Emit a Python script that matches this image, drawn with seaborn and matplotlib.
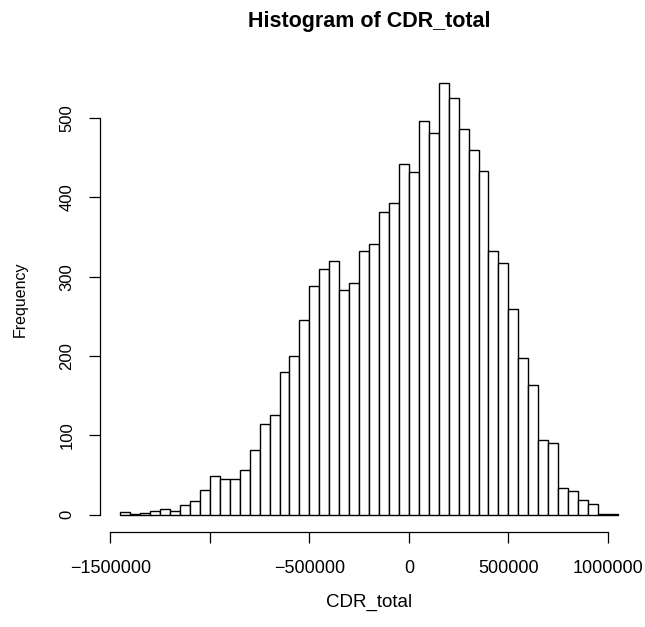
import numpy as np
import pandas as pd
import matplotlib
matplotlib.use("Agg")
import matplotlib.pyplot as plt
import seaborn as sns

# ---- data ----
bin_start = -1450000
bin_width = 50000
counts = [3, 1, 2, 5, 7, 5, 12, 17, 31, 49,
          45, 45, 56, 82, 115, 126, 180, 200, 245, 289,
          310, 320, 283, 292, 333, 341, 382, 393, 442, 432,
          497, 481, 544, 526, 486, 460, 433, 333, 317, 259,
          197, 164, 94, 90, 34, 30, 19, 13, 1, 1]
x_ticks = [-1500000, -1000000, -500000, 0, 500000, 1000000]
x_tick_labels = ["\u22121500000", "", "\u2212500000", "0", "500000", "1000000"]
y_ticks = [0, 100, 200, 300, 400, 500]
y_tick_labels = ["0", "100", "200", "300", "400", "500"]
title = "Histogram of CDR_total"
x_label = "CDR_total"
y_label = "Frequency"

edges = bin_start + bin_width * np.arange(len(counts) + 1)
df = pd.DataFrame({"mid": edges[:-1] + bin_width / 2, "count": counts})

sns.set_theme(style="white")
plt.rcParams["font.family"] = ["Liberation Sans", "DejaVu Sans"]

W, H = 645, 627
fig = plt.figure(figsize=(W / 100, H / 100), dpi=100)
left, right, top, bottom = 100.4, 637.7, 66.0, 532.0
ax = fig.add_axes([left / W, (H - bottom) / H, (right - left) / W, (bottom - top) / H])

sns.histplot(data=df, x="mid", weights="count", binwidth=bin_width,
             binrange=(float(edges[0]), float(edges[-1])), stat="count",
             color="white", edgecolor="black", linewidth=1.0, alpha=1.0, ax=ax)

ymax = max(counts)
ax.set_xlim(edges[0] - 0.04 * (edges[-1] - edges[0]), edges[-1] + 0.04 * (edges[-1] - edges[0]))
ax.set_ylim(-0.04 * ymax, 1.04 * ymax)

for s in ["top", "right"]:
    ax.spines[s].set_visible(False)
for s in ["left", "bottom"]:
    ax.spines[s].set_visible(True)
    ax.spines[s].set_color("black")
    ax.spines[s].set_linewidth(0.9)
ax.spines["bottom"].set_bounds(x_ticks[0], x_ticks[-1])
ax.spines["left"].set_bounds(y_ticks[0], y_ticks[-1])

ax.set_xticks(x_ticks)
ax.set_xticklabels(x_tick_labels)
ax.set_yticks(y_ticks)
ax.set_yticklabels(y_tick_labels, rotation=90, va="center")
ax.tick_params(axis="x", direction="out", length=7.8, width=0.9, color="black",
               labelsize=13, pad=12.5, bottom=True, labelcolor="black")
ax.tick_params(axis="y", direction="out", length=8.2, width=0.9, color="black",
               labelsize=12, pad=10.5, left=True, labelcolor="black")

ax.set_xlabel(x_label, fontsize=13.5, labelpad=12, color="black")
ax.set_ylabel(y_label, fontsize=11.5, labelpad=22.5, color="black")
fig.text((left + right) / 2 / W, 1 - 26.7 / H, title, ha="center", va="baseline",
         fontsize=15.5, fontweight="bold", color="black")

fig.savefig("out.png", dpi=100, facecolor="white")
